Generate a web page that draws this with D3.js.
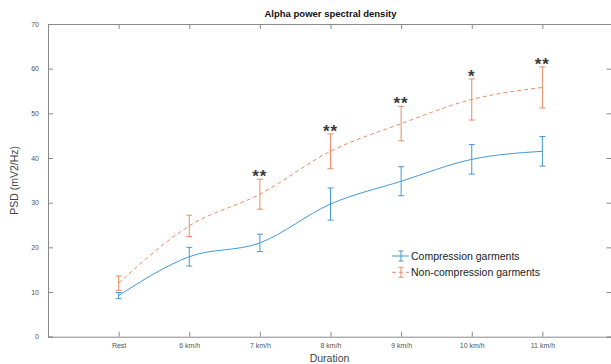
<!DOCTYPE html>
<html>
<head>
<meta charset="utf-8">
<script src="https://cdn.jsdelivr.net/npm/d3@7"></script>
<style>
  body { margin: 0; background: #fff; }
  svg { font-family: "Liberation Sans", Arial, sans-serif; }
</style>
</head>
<body>
<svg id="chart" width="611" height="364"></svg>
<script>
// categories along the x axis (Rest sits at position 1, domain is 0..8)
const categories = ["Rest", "6 km/h", "7 km/h", "8 km/h", "9 km/h", "10 km/h", "11 km/h"];
// compression garments: mean and error
const compMean = [9.2, 17.9, 21.0, 29.7, 34.8, 39.7, 41.5];
const compErr  = [0.7, 2.1, 1.95, 3.6, 3.25, 3.3, 3.3];
// non-compression garments: mean and error
const nonMean = [12.0, 24.8, 31.9, 41.5, 47.7, 53.1, 55.8];
const nonErr  = [1.6, 2.4, 3.35, 3.9, 3.85, 4.6, 4.6];
// significance marks above the non-compression bars
const stars = ["", "", "**", "**", "**", "*", "**"];
const yTicks = [0, 10, 20, 30, 40, 50, 60, 70];

const svg = d3.select("#chart");
const plotL = 48, plotR = 613, plotT = 24, plotB = 336.7;
const axisColor = "#8a8a8a";
const blue = "#4199d8", orange = "#ef8a62";

const x = d3.scaleLinear().domain([0, 8]).range([plotL, plotR]);
const y = d3.scaleLinear().domain([0, 70]).range([plotB, plotT]);
const xi = i => x(i + 1);

// title
svg.append("text")
  .attr("x", (plotL + plotR) / 2).attr("y", 17)
  .attr("text-anchor", "middle")
  .style("font-size", "9.5px").style("font-weight", "bold").attr("fill", "#111")
  .text("Alpha power spectral density");

// box axes with inward ticks
const g = svg.append("g");
const bottomAxis = d3.axisBottom(x).tickValues(d3.range(1, 8)).tickSize(-5).tickPadding(6)
  .tickFormat(d => categories[d - 1]);
g.append("g").attr("transform", `translate(0,${plotB})`).call(bottomAxis);
const topAxis = d3.axisTop(x).tickValues(d3.range(1, 8)).tickSize(-5).tickFormat("");
g.append("g").attr("transform", `translate(0,${plotT})`).call(topAxis);
const leftAxis = d3.axisLeft(y).tickValues(yTicks).tickSize(-5).tickPadding(9);
g.append("g").attr("transform", `translate(${plotL},0)`).call(leftAxis);
const rightAxis = d3.axisRight(y).tickValues(yTicks).tickSize(-5).tickFormat("");
g.append("g").attr("transform", `translate(${plotR - 1.5},0)`).call(rightAxis);

g.selectAll(".domain").attr("stroke", axisColor);
g.selectAll(".tick line").attr("stroke", axisColor);
g.selectAll(".tick text").attr("fill", "#555").style("font-size", "7px")
  .style("font-family", "Liberation Sans, Arial, sans-serif");

// axis labels
svg.append("text")
  .attr("x", (plotL + plotR) / 2 - 1).attr("y", 362)
  .attr("text-anchor", "middle").attr("fill", "#444")
  .style("font-size", "10.5px").text("Duration");
svg.append("text")
  .attr("transform", `translate(18,${(plotT + plotB) / 2}) rotate(-90)`)
  .attr("text-anchor", "middle").attr("fill", "#444")
  .style("font-size", "10.5px").text("PSD (mV2/Hz)");

const line = d3.line().x((d, i) => xi(i)).y(d => y(d)).curve(d3.curveMonotoneX);

function drawSeries(mean, err, color, dash) {
  const s = svg.append("g");
  s.append("path").datum(mean)
    .attr("d", line).attr("fill", "none")
    .attr("stroke", color).attr("stroke-width", 1)
    .attr("stroke-dasharray", dash);
  const bars = s.selectAll(".eb").data(mean).enter().append("g");
  bars.append("line")
    .attr("x1", (d, i) => xi(i)).attr("x2", (d, i) => xi(i))
    .attr("y1", (d, i) => y(d - err[i])).attr("y2", (d, i) => y(d + err[i]))
    .attr("stroke", color);
  [-1, 1].forEach(sgn => {
    bars.append("line")
      .attr("x1", (d, i) => xi(i) - 3).attr("x2", (d, i) => xi(i) + 3)
      .attr("y1", (d, i) => y(d + sgn * err[i])).attr("y2", (d, i) => y(d + sgn * err[i]))
      .attr("stroke", color);
  });
}
drawSeries(nonMean, nonErr, orange, "4,3");
drawSeries(compMean, compErr, blue, null);

// significance stars
svg.selectAll(".star").data(stars).enter().append("text")
  .attr("x", (d, i) => xi(i))
  .attr("y", (d, i) => y(nonMean[i] + nonErr[i]) + 3)
  .attr("text-anchor", "middle")
  .attr("fill", "#3a3a3a")
  .style("font-size", "17px").style("font-weight", "bold")
  .style("letter-spacing", "1px")
  .text(d => d);

// legend
const legend = svg.append("g").attr("transform", "translate(392,256)");
[["Compression garments", blue, null], ["Non-compression garments", orange, "4,3"]].forEach((item, k) => {
  const row = legend.append("g").attr("transform", `translate(0,${k * 16.3})`);
  row.append("line").attr("x1", 0).attr("x2", 17).attr("y1", 0).attr("y2", 0)
    .attr("stroke", item[1]).attr("stroke-dasharray", item[2]);
  row.append("line").attr("x1", 9).attr("x2", 9).attr("y1", -5).attr("y2", 5).attr("stroke", item[1]);
  row.append("line").attr("x1", 6.5).attr("x2", 11.5).attr("y1", -5).attr("y2", -5).attr("stroke", item[1]);
  row.append("line").attr("x1", 6.5).attr("x2", 11.5).attr("y1", 5).attr("y2", 5).attr("stroke", item[1]);
  row.append("text").attr("x", 19).attr("y", 4).attr("fill", "#222")
    .style("font-size", "10.5px").text(item[0]);
});
</script>
</body>
</html>
